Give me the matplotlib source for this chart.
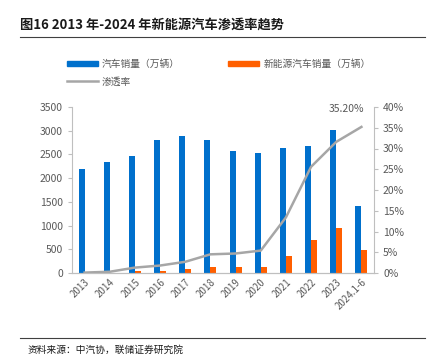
import matplotlib
matplotlib.use("Agg")
import matplotlib.pyplot as plt
import numpy as np
from matplotlib.lines import Line2D
from matplotlib.patches import Patch

plt.rcParams["font.family"] = ["Noto Sans CJK SC", "DejaVu Sans"]

years = ["2013", "2014", "2015", "2016", "2017", "2018", "2019", "2020",
         "2021", "2022", "2023", "2024.1-6"]
auto_sales = [2198, 2349, 2460, 2803, 2888, 2808, 2577, 2531, 2628, 2686, 3009, 1405]
nev_sales = [2, 7.5, 33, 51, 77, 126, 121, 137, 352, 689, 950, 494]
penetration = [0.1, 0.3, 1.3, 1.8, 2.7, 4.5, 4.7, 5.4, 13.4, 25.6, 31.6, 35.2]

BLUE = "#0070CC"
ORANGE = "#FF5F00"
GRAY = "#A6A6A6"
TXT = "#595959"
AX = "#BFBFBF"

fig = plt.figure(figsize=(4.4, 3.63), dpi=100)
ax = fig.add_axes([72 / 440, 1 - 273 / 363, (374 - 72) / 440, (273 - 107) / 363])

x = np.arange(len(years))
w = 0.24
ax.bar(x - w / 2, auto_sales, w, color=BLUE, zorder=2)
ax.bar(x + w / 2, nev_sales, w, color=ORANGE, zorder=2)
ax.set_xlim(-0.5, len(years) - 0.5)
ax.set_ylim(0, 3500)
ax.set_yticks(np.arange(0, 3501, 500))
ax.set_xticks(x)
ax.set_xticklabels(years, rotation=45, ha="right", rotation_mode="anchor")

ax2 = ax.twinx()
ax2.plot(x, penetration, color=GRAY, lw=1.8, zorder=3)
ax2.set_ylim(0, 40)
ax2.set_yticks(np.arange(0, 41, 5))
ax2.set_yticklabels([f"{v}%" for v in range(0, 41, 5)])
ax2.annotate("35.20%", (x[-1], penetration[-1]), xytext=(2, 9),
             textcoords="offset points", ha="right", va="bottom",
             fontsize=7.5, color=TXT)

for a in (ax, ax2):
    for s in a.spines.values():
        s.set_color(AX)
        s.set_linewidth(0.8)
    a.spines["top"].set_visible(False)
    a.tick_params(labelsize=7.5, labelcolor=TXT, color=AX, length=3, width=0.8)
ax.tick_params(axis="x", length=0, pad=3, labelsize=7)
ax.spines["right"].set_visible(False)
ax2.spines["left"].set_visible(False)

fig.text(20 / 440, 1 - 25 / 363, "图16 2013 年-2024 年新能源汽车渗透率趋势",
         fontsize=9.5, fontweight="bold", color="#1a1a1a", va="center")
fig.add_artist(Line2D([20 / 440, 425 / 440], [1 - 37 / 363] * 2, color="#404040", lw=0.8))
fig.add_artist(Line2D([20 / 440, 425 / 440], [1 - 338 / 363] * 2, color="#404040", lw=0.8))
fig.text(28 / 440, 1 - 350 / 363, "资料来源：中汽协，联储证券研究院", fontsize=7,
         color="#1a1a1a", va="center")

fig.legend(handles=[Patch(color=BLUE, label="汽车销量（万辆）"),
                    Line2D([], [], color=GRAY, lw=1.8, label="渗透率"),
                    Patch(color=ORANGE, label="新能源汽车销量（万辆）")],
           loc="upper left", bbox_to_anchor=(58 / 440, 1 - 50 / 363), ncol=2,
           frameon=False, fontsize=7, labelcolor=TXT, handlelength=3.2,
           handleheight=0.5, columnspacing=5.0, handletextpad=0.4, labelspacing=0.8)

fig.savefig("out.png", dpi=100)
